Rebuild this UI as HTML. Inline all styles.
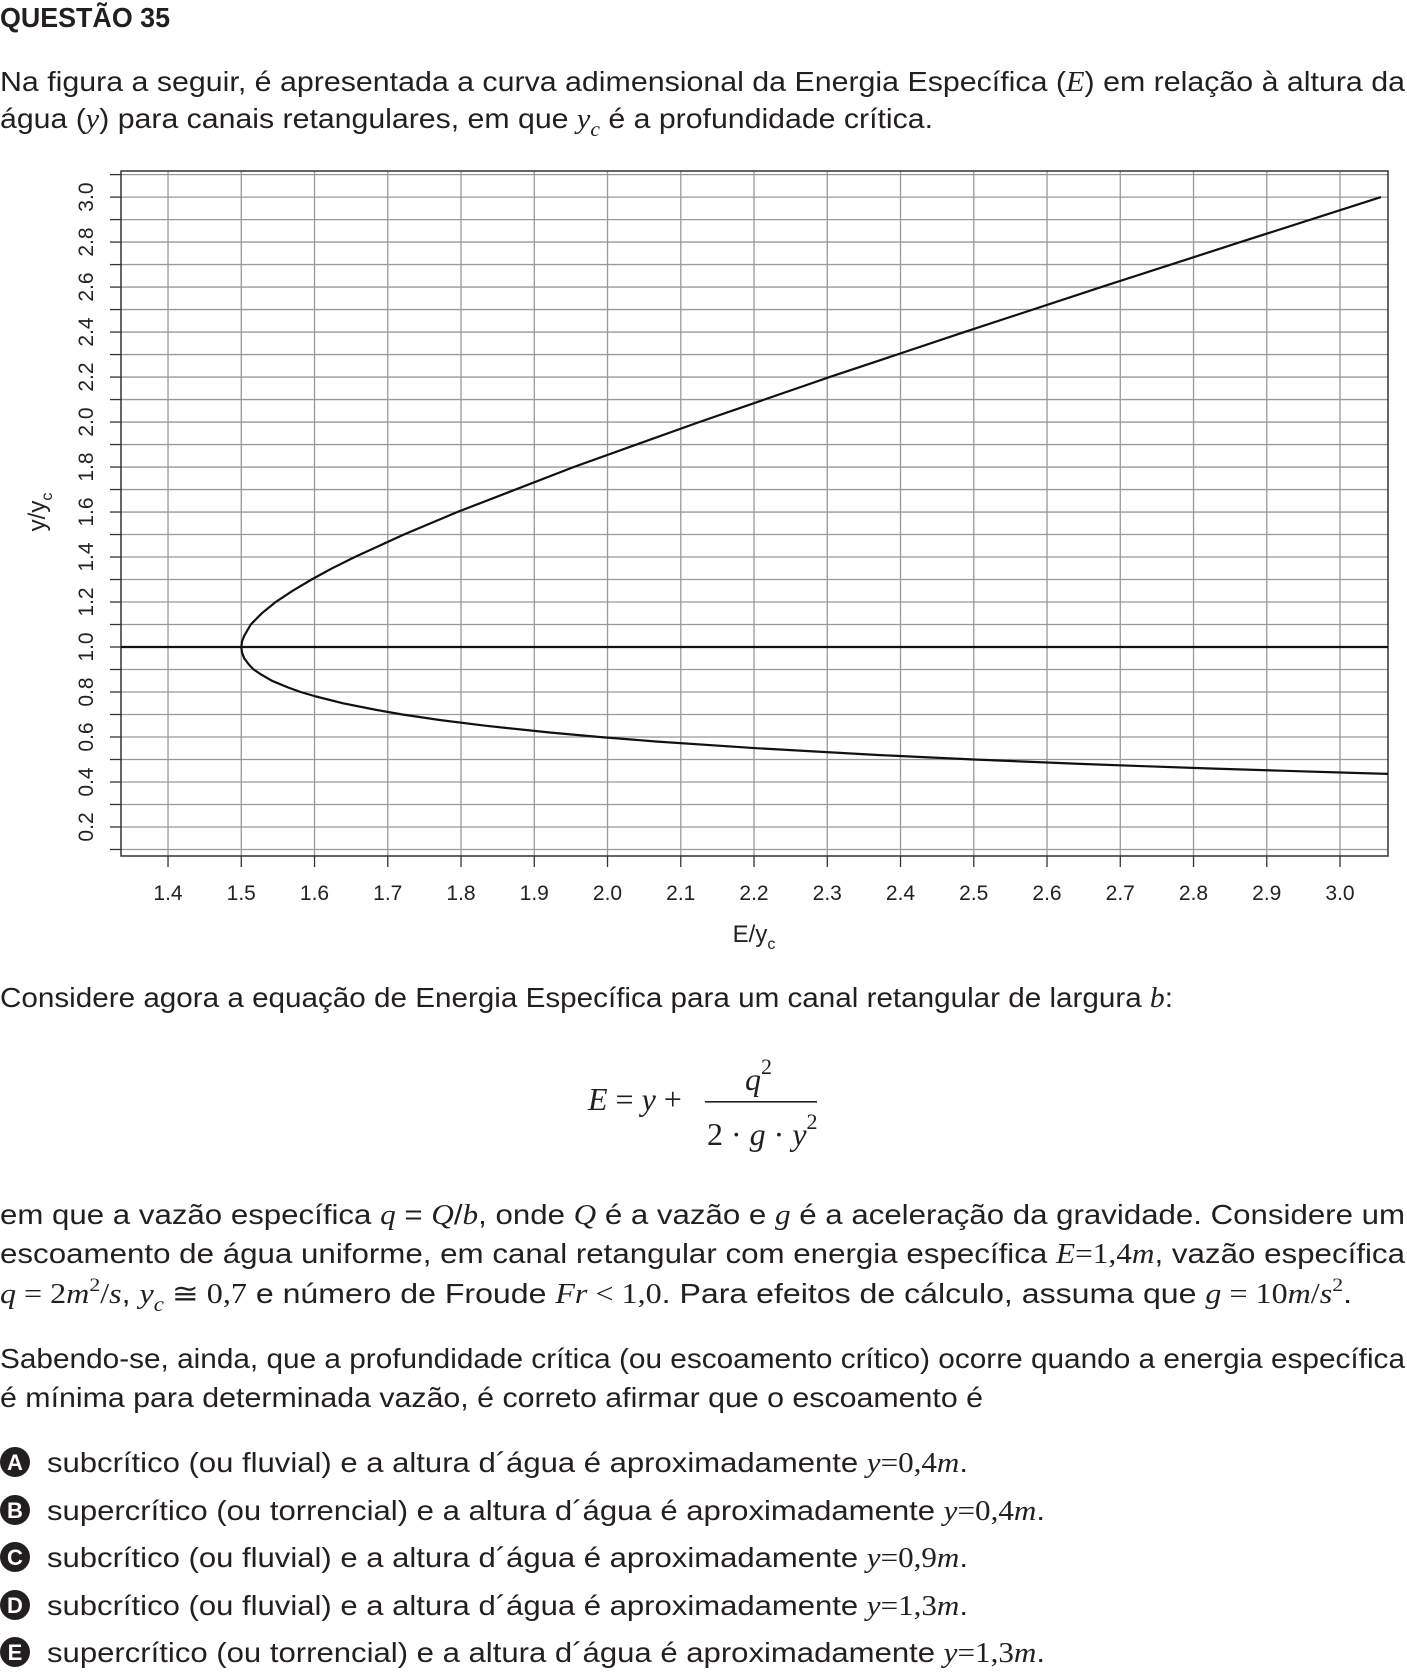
<!DOCTYPE html>
<html><head><meta charset="utf-8"><style>
html,body{margin:0;padding:0;background:#fff}
svg{display:block}
.t{font-family:"Liberation Sans",sans-serif;font-size:28px;fill:#231f20}
.m{font-family:"Liberation Serif",serif;font-style:italic}
.r{font-family:"Liberation Serif",serif;font-style:normal}
.tick{font-family:"Liberation Sans",sans-serif;font-size:21px;fill:#222}
</style></head><body>
<svg id="page" width="1407" height="1672" viewBox="0 0 1407 1672">
<text class="t" x="0" y="27" font-weight="bold" textLength="170" lengthAdjust="spacingAndGlyphs">QUESTÃO 35</text>
<text class="t" x="0" y="91" textLength="1405" lengthAdjust="spacingAndGlyphs">Na figura a seguir, é apresentada a curva adimensional da Energia Específica (<tspan class="m">E</tspan>) em relação à altura da</text>
<text class="t" x="0" y="128" textLength="933" lengthAdjust="spacingAndGlyphs">água (<tspan class="m">y</tspan>) para canais retangulares, em que <tspan class="m">y</tspan><tspan class="m" font-size="20" dy="8">c</tspan><tspan dy="-8"> é a profundidade crítica.</tspan></text>

<g id="chart"></g>

<text class="t" x="0" y="1007" textLength="1173" lengthAdjust="spacingAndGlyphs">Considere agora a equação de Energia Específica para um canal retangular de largura <tspan class="m">b</tspan>:</text>

<g font-family="Liberation Serif,serif" font-size="32" fill="#231f20">
<text x="588" y="1110"><tspan font-style="italic">E</tspan> = <tspan font-style="italic">y</tspan> +</text>
<text x="745" y="1090" font-style="italic">q<tspan font-style="normal" font-size="22" dy="-16">2</tspan></text>
<rect x="705" y="1101" width="112" height="1.6" fill="#231f20"/>
<text x="707" y="1145">2 · <tspan font-style="italic">g</tspan> · <tspan font-style="italic">y</tspan><tspan font-size="22" dy="-16">2</tspan></text>
</g>

<text class="t" x="0" y="1224" textLength="1405" lengthAdjust="spacingAndGlyphs">em que a vazão específica <tspan class="m">q</tspan> = <tspan class="m">Q</tspan>/<tspan class="m">b</tspan>, onde <tspan class="m">Q</tspan> é a vazão e <tspan class="m">g</tspan> é a aceleração da gravidade. Considere um</text>
<text class="t" x="0" y="1263" textLength="1405" lengthAdjust="spacingAndGlyphs">escoamento de água uniforme, em canal retangular com energia específica <tspan class="m">E</tspan><tspan class="r">=1,4</tspan><tspan class="m">m</tspan>, vazão específica</text>
<text class="t" x="0" y="1303" textLength="1352" lengthAdjust="spacingAndGlyphs"><tspan class="m">q</tspan><tspan class="r"> = 2</tspan><tspan class="m">m</tspan><tspan class="r" font-size="19" dy="-12">2</tspan><tspan dy="12" class="r">/</tspan><tspan class="m">s</tspan>, <tspan class="m">y</tspan><tspan class="m" font-size="20" dy="8">c</tspan><tspan class="r" dy="-8"> ≅ 0,7</tspan> e número de Froude <tspan class="m">Fr</tspan><tspan class="r"> &lt; 1,0</tspan>. Para efeitos de cálculo, assuma que <tspan class="m">g</tspan><tspan class="r"> = 10</tspan><tspan class="m">m</tspan><tspan class="r">/</tspan><tspan class="m">s</tspan><tspan class="r" font-size="19" dy="-12">2</tspan><tspan dy="12">.</tspan></text>
<text class="t" x="0" y="1368" textLength="1405" lengthAdjust="spacingAndGlyphs">Sabendo-se, ainda, que a profundidade crítica (ou escoamento crítico) ocorre quando a energia específica</text>
<text class="t" x="0" y="1407" textLength="983" lengthAdjust="spacingAndGlyphs">é mínima para determinada vazão, é correto afirmar que o escoamento é</text>

<g>
<circle cx="15" cy="1462" r="15" fill="#231f20"/><text x="15" y="1470" text-anchor="middle" font-family="Liberation Sans,sans-serif" font-weight="bold" font-size="22" fill="#fff">A</text>
<text class="t" x="47" y="1472" textLength="921" lengthAdjust="spacingAndGlyphs">subcrítico (ou fluvial) e a altura d´água é aproximadamente <tspan class="m">y</tspan><tspan class="r">=0,4</tspan><tspan class="m">m</tspan>.</text></g>
<g>
<circle cx="15" cy="1510" r="15" fill="#231f20"/><text x="15" y="1518" text-anchor="middle" font-family="Liberation Sans,sans-serif" font-weight="bold" font-size="22" fill="#fff">B</text>
<text class="t" x="47" y="1520" textLength="998" lengthAdjust="spacingAndGlyphs">supercrítico (ou torrencial) e a altura d´água é aproximadamente <tspan class="m">y</tspan><tspan class="r">=0,4</tspan><tspan class="m">m</tspan>.</text></g>
<g>
<circle cx="15" cy="1557" r="15" fill="#231f20"/><text x="15" y="1565" text-anchor="middle" font-family="Liberation Sans,sans-serif" font-weight="bold" font-size="22" fill="#fff">C</text>
<text class="t" x="47" y="1567" textLength="921" lengthAdjust="spacingAndGlyphs">subcrítico (ou fluvial) e a altura d´água é aproximadamente <tspan class="m">y</tspan><tspan class="r">=0,9</tspan><tspan class="m">m</tspan>.</text></g>
<g>
<circle cx="15" cy="1605" r="15" fill="#231f20"/><text x="15" y="1613" text-anchor="middle" font-family="Liberation Sans,sans-serif" font-weight="bold" font-size="22" fill="#fff">D</text>
<text class="t" x="47" y="1615" textLength="921" lengthAdjust="spacingAndGlyphs">subcrítico (ou fluvial) e a altura d´água é aproximadamente <tspan class="m">y</tspan><tspan class="r">=1,3</tspan><tspan class="m">m</tspan>.</text></g>
<g>
<circle cx="15" cy="1652" r="15" fill="#231f20"/><text x="15" y="1660" text-anchor="middle" font-family="Liberation Sans,sans-serif" font-weight="bold" font-size="22" fill="#fff">E</text>
<text class="t" x="47" y="1662" textLength="998" lengthAdjust="spacingAndGlyphs">supercrítico (ou torrencial) e a altura d´água é aproximadamente <tspan class="m">y</tspan><tspan class="r">=1,3</tspan><tspan class="m">m</tspan>.</text></g>
</svg>
<script>
const xTicks = [1.4,1.5,1.6,1.7,1.8,1.9,2.0,2.1,2.2,2.3,2.4,2.5,2.6,2.7,2.8,2.9,3.0];
const xTickLabels = ["1.4","1.5","1.6","1.7","1.8","1.9","2.0","2.1","2.2","2.3","2.4","2.5","2.6","2.7","2.8","2.9","3.0"];
const yTicks = [0.1,0.2,0.3,0.4,0.5,0.6,0.7,0.8,0.9,1.0,1.1,1.2,1.3,1.4,1.5,1.6,1.7,1.8,1.9,2.0,2.1,2.2,2.3,2.4,2.5,2.6,2.7,2.8,2.9,3.0,3.1];
const yLabelValues = [0.2,0.4,0.6,0.8,1.0,1.2,1.4,1.6,1.8,2.0,2.2,2.4,2.6,2.8,3.0];
const yLabelTexts = ["0.2","0.4","0.6","0.8","1.0","1.2","1.4","1.6","1.8","2.0","2.2","2.4","2.6","2.8","3.0"];
const curveY = [0.436,0.44,0.45,0.46,0.47,0.48,0.5,0.52,0.55,0.58,0.6,0.62,0.65,0.675,0.7,0.72,0.75,0.78,0.8,0.82,0.85,0.88,0.9,0.92,0.95,0.975,1.0,1.025,1.05,1.1,1.15,1.2,1.25,1.3,1.35,1.4,1.5,1.6,1.8,2.0,2.2,2.4,2.6,2.8,3.0];
const curveE = [3.066,3.023,2.919,2.823,2.733,2.650,2.5,2.369,2.203,2.066,1.989,1.921,1.833,1.772,1.720,1.685,1.639,1.602,1.581,1.564,1.542,1.526,1.517,1.511,1.504,1.501,1.5,1.501,1.504,1.513,1.528,1.547,1.570,1.596,1.624,1.655,1.722,1.795,1.954,2.125,2.303,2.487,2.674,2.864,3.056];
const criticalY = [1.0];

const NS = "http://www.w3.org/2000/svg";
const L=121,T=171,R=1388,B=856;
const xMin=1.3358,xMax=3.0655,yMin=0.071,yMax=3.116;
function sx(v){return L+(v-xMin)/(xMax-xMin)*(R-L);}
function sy(v){return B-(v-yMin)/(yMax-yMin)*(B-T);}
const chart=document.getElementById('chart');
function mk(tag,attrs,parent){const e=document.createElementNS(NS,tag);for(const k in attrs)e.setAttribute(k,attrs[k]);(parent||chart).appendChild(e);return e;}

const defs=mk('defs',{});
const cp=mk('clipPath',{id:'clip'},defs);
mk('rect',{x:L,y:T,width:R-L,height:B-T},cp);

xTicks.forEach((v,i)=>{
  const g=mk('line',{x1:sx(v),x2:sx(v),y1:T,y2:B,stroke:'#999','stroke-width':1.3});
  
  
  const t=mk('line',{x1:sx(v),x2:sx(v),y1:B,y2:B+11,stroke:'#333','stroke-width':1.3});
  
  
  const lb=mk('text',{x:sx(v),y:900,'text-anchor':'middle',class:'tick'});
  lb.textContent=xTickLabels[i];
  
  
});
yTicks.forEach(v=>{
  if(sy(v)<T||sy(v)>B)return;
  const g=mk('line',{x1:L,x2:R,y1:sy(v),y2:sy(v),stroke:'#999','stroke-width':1.3});
  
  
  const t=mk('line',{x1:L-11,x2:L,y1:sy(v),y2:sy(v),stroke:'#333','stroke-width':1.3});
  
  
});
yLabelValues.forEach((v,i)=>{
  const lb=mk('text',{x:0,y:0,'text-anchor':'middle',class:'tick',transform:`translate(93,${sy(v)}) rotate(-90)`});
  lb.textContent=yLabelTexts[i];
  
  
});
const frame=mk('rect',{x:L,y:T,width:R-L,height:B-T,fill:'none',stroke:'#333','stroke-width':1.5});



criticalY.forEach(v=>{
  const h=mk('line',{x1:L,x2:R,y1:sy(v),y2:sy(v),stroke:'#111','stroke-width':2.2});
  
  
});
const pts=curveY.map((y,i)=>sx(curveE[i]).toFixed(1)+','+sy(y).toFixed(1)).join(' ');
const curve=mk('polyline',{points:pts,fill:'none',stroke:'#111','stroke-width':2.2,'stroke-linejoin':'round','clip-path':'url(#clip)'});



const xt=mk('text',{x:754,y:942,'text-anchor':'middle','font-family':'Liberation Sans,sans-serif','font-size':24,fill:'#222'});
xt.innerHTML='E/y<tspan font-size="16" dy="7">c</tspan>';


const yt=mk('text',{x:0,y:0,'text-anchor':'middle','font-family':'Liberation Sans,sans-serif','font-size':24,fill:'#222',transform:'translate(45,512) rotate(-90)'});
yt.innerHTML='y/y<tspan font-size="16" dy="7">c</tspan>';


</script>
</body></html>
